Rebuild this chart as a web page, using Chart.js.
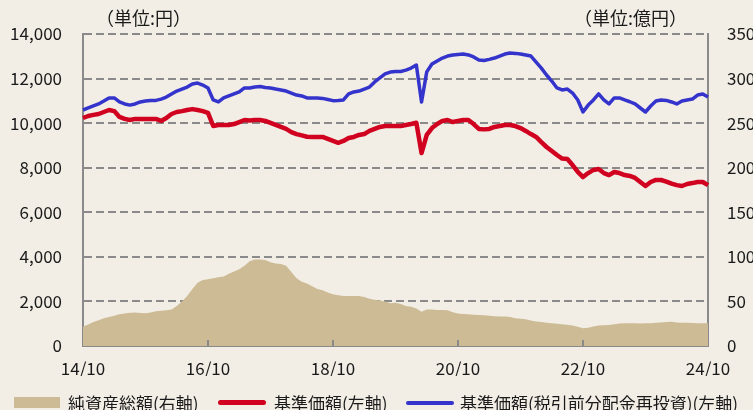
<!DOCTYPE html>
<html>
<head>
<meta charset="utf-8">
<script src="https://cdn.jsdelivr.net/npm/chart.js@4"></script>
<style>
  body { margin: 0; background: #f2eee6; overflow: hidden; }
  #wrap { position: relative; width: 753px; height: 410px; overflow: hidden; }
  .unit { position: absolute; top: 4px; font: 18px "Noto Sans CJK JP", sans-serif; color: #1a1a1a; white-space: nowrap; }
  #legend { position: absolute; left: 0; top: 390px; width: 753px; height: 20px; white-space: nowrap; overflow: hidden;
            font: 17px "Noto Sans CJK JP", sans-serif; color: #1a1a1a; }
  #legend span.item { display: inline-flex; align-items: center; }
  #legend span.sw { display: inline-block; margin-right: 5px; }
</style>
</head>
<body>
<div id="wrap">
  <canvas id="chart" width="753" height="410"></canvas>
  <div class="unit" style="left:96px">（単位:円）</div>
  <div class="unit" style="left:574px">（単位:億円）</div>
  <div id="legend"></div>
</div>
<script>
// monthly, 2014/10 .. 2024/10
const startYear = 14, startMonth = 10, monthCount = 121;
const labels = [];
for (let i = 0; i < monthCount; i++) {
  const m = (startMonth - 1 + i) % 12 + 1;
  const y = startYear + Math.floor((startMonth - 1 + i) / 12);
  labels.push(y + "/" + m);
}

// 純資産総額 (億円, right axis)
const netAssets = [
  21.7, 24, 27, 29, 31, 32.5, 34, 35.5, 36.5, 37.4,
  37.5, 37, 36.6, 37.5, 39, 39.5, 40, 41, 45, 50,
  56, 64, 71, 74, 75, 76, 77, 78, 81, 83.5,
  86, 90, 95, 97, 97, 96.5, 94, 92.5, 92, 90,
  83, 76, 72, 70, 67, 64, 62.5, 60, 58, 57,
  56, 56, 56, 56, 55, 53, 52, 51, 50, 48,
  48.5, 47, 45, 44, 42, 38.5, 41, 41, 40.5, 40.5,
  40, 38, 36.5, 36, 35.5, 35, 34.8, 34.5, 34, 33.5,
  33, 33, 32.5, 31, 30.5, 30, 28.5, 27.5, 27, 26,
  25.4, 25, 24.5, 23.8, 23, 21.5, 20, 20.5, 22, 23,
  23.3, 23.6, 24.5, 25.2, 25.4, 25.5, 25.4, 25.2, 25.4, 25.6,
  26, 26.5, 27, 27.3, 26.5, 26.2, 26, 25.8, 25.6, 25.5,
  25.4
];

// 基準価額 (円, left axis)
const navPrice = [
  10230, 10320, 10370, 10410, 10500, 10590, 10540, 10280, 10190, 10140,
  10190, 10190, 10190, 10190, 10190, 10100, 10230, 10410, 10500, 10540,
  10590, 10630, 10590, 10540, 10460, 9870, 9920, 9920, 9920, 9960,
  10050, 10140, 10120, 10140, 10140, 10100, 10010, 9920, 9830, 9740,
  9600, 9510, 9450, 9390, 9380, 9380, 9380, 9290, 9200, 9120,
  9200, 9330, 9380, 9470, 9510, 9650, 9740, 9830, 9870, 9870,
  9870, 9870, 9920, 9960, 10020, 8660, 9470, 9780, 9960, 10100,
  10140, 10050, 10100, 10140, 10140, 9960, 9740, 9720, 9740, 9830,
  9870, 9920, 9920, 9870, 9780, 9650, 9510, 9380, 9150, 8930,
  8750, 8570, 8410, 8390, 8120, 7810, 7580, 7760, 7900, 7940,
  7760, 7670, 7810, 7760, 7670, 7630, 7540, 7360, 7180, 7360,
  7450, 7450, 7380, 7290, 7220, 7180, 7270, 7310, 7360, 7360,
  7220
];

// 基準価額(税引前分配金再投資) (円, left axis)
const navReinvested = [
  10590, 10680, 10770, 10860, 10990, 11130, 11130, 10950, 10860, 10810,
  10860, 10950, 10990, 11020, 11020, 11080, 11170, 11310, 11440, 11530,
  11620, 11760, 11800, 11710, 11580, 11040, 10950, 11130, 11220, 11310,
  11400, 11580, 11580, 11620, 11640, 11600, 11580, 11530, 11490, 11440,
  11350, 11260, 11220, 11130, 11130, 11130, 11110, 11060, 11010, 11020,
  11040, 11310, 11400, 11440, 11530, 11620, 11850, 12030, 12210, 12290,
  12320, 12320, 12380, 12470, 12610, 10950, 12300, 12650, 12790, 12920,
  13010, 13060, 13080, 13100, 13060, 12970, 12830, 12810, 12860, 12920,
  13010, 13100, 13150, 13130, 13100, 13060, 13010, 12740, 12470, 12160,
  11890, 11580, 11490, 11530, 11350, 11040, 10500, 10810, 11040, 11310,
  11040, 10860, 11130, 11130, 11040, 10960, 10860, 10680, 10500, 10770,
  10990, 11040, 11020, 10950, 10860, 10990, 11040, 11080, 11260, 11310,
  11170
];

const leftTicks = { min: 0, max: 14000, step: 2000 };
const rightTicks = { min: 0, max: 350, step: 50 };
const xTickEvery = 24;

const gray = "#8a8a8a";
const tickFont = { family: "'Noto Sans CJK JP', sans-serif", size: 17 };

// small inward tick marks on the x axis
const innerTicks = {
  id: "innerTicks",
  afterDatasetsDraw(chart) {
    const x = chart.scales.x, ctx = chart.ctx, bottom = chart.chartArea.bottom;
    ctx.save();
    ctx.strokeStyle = gray;
    ctx.lineWidth = 2;
    for (let i = xTickEvery; i < labels.length - 1; i += xTickEvery) {
      const px = Math.round(x.getPixelForValue(i));
      ctx.beginPath();
      ctx.moveTo(px, bottom);
      ctx.lineTo(px, bottom - 6);
      ctx.stroke();
    }
    ctx.restore();
  }
};

const datasets = [
  {
    label: "純資産総額(右軸)",
    data: netAssets,
    yAxisID: "y1",
    backgroundColor: "#ccbb94",
    borderColor: "#ccbb94",
    borderWidth: 0,
    fill: "origin",
    pointRadius: 0,
    order: 3
  },
  {
    label: "基準価額(左軸)",
    data: navPrice,
    yAxisID: "y",
    borderColor: "#d0021f",
    borderWidth: 4.5,
    borderJoinStyle: "round",
    fill: false,
    pointRadius: 0,
    order: 2
  },
  {
    label: "基準価額(税引前分配金再投資)(左軸)",
    data: navReinvested,
    yAxisID: "y",
    borderColor: "#3434cc",
    borderWidth: 3.5,
    borderJoinStyle: "round",
    fill: false,
    pointRadius: 0,
    order: 1
  }
];

new Chart(document.getElementById("chart"), {
  type: "line",
  data: { labels, datasets },
  options: {
    responsive: false,
    animation: false,
    layout: { padding: { top: 34, bottom: 34, left: 0, right: 0 } },
    plugins: { legend: { display: false }, tooltip: { enabled: false } },
    elements: { line: { tension: 0 } },
    scales: {
      x: {
        grid: { display: false, drawTicks: false },
        border: { display: true, color: gray, width: 2 },
        ticks: {
          autoSkip: false,
          maxRotation: 0,
          padding: 12,
          color: "#1a1a1a",
          font: tickFont,
          callback: (v, i) => (i % xTickEvery === 0 ? labels[i] : null)
        },
        afterFit: s => { s.height = 30; }
      },
      y: {
        position: "left",
        min: leftTicks.min,
        max: leftTicks.max,
        grid: { color: gray, lineWidth: 2, drawTicks: false },
        border: { display: true, color: gray, width: 2, dash: [8, 4] },
        ticks: {
          stepSize: leftTicks.step,
          padding: 21,
          color: "#1a1a1a",
          font: tickFont,
          callback: v => v.toLocaleString("en-US")
        },
        afterFit: s => { s.width = 83; }
      },
      y1: {
        position: "right",
        min: rightTicks.min,
        max: rightTicks.max,
        grid: { display: false, drawTicks: false },
        border: { display: true, color: gray, width: 2 },
        ticks: {
          stepSize: rightTicks.step,
          padding: 19,
          color: "#1a1a1a",
          font: tickFont
        },
        afterFit: s => { s.width = 45; }
      }
    }
  },
  plugins: [innerTicks]
});

// legend as html so it can run off the right edge like the original
const legend = document.getElementById("legend");
const swatches = [
  { w: 46, h: 11, gap: 8 },
  { w: 48, h: 5, gap: 8 },
  { w: 48, h: 4, gap: 6 }
];
const legendStarts = [14, 218, 406];
datasets.forEach((ds, i) => {
  const item = document.createElement("span");
  item.className = "item";
  item.style.position = "absolute";
  item.style.left = legendStarts[i] + "px";
  item.style.top = "0px";
  const sw = document.createElement("span");
  sw.className = "sw";
  sw.style.width = swatches[i].w + "px";
  sw.style.height = swatches[i].h + "px";
  sw.style.marginRight = swatches[i].gap + "px";
  sw.style.borderRadius = i === 0 ? "0" : "3px";
  sw.style.background = ds.borderColor;
  item.appendChild(sw);
  item.appendChild(document.createTextNode(ds.label));
  legend.appendChild(item);
});
</script>
</body>
</html>
